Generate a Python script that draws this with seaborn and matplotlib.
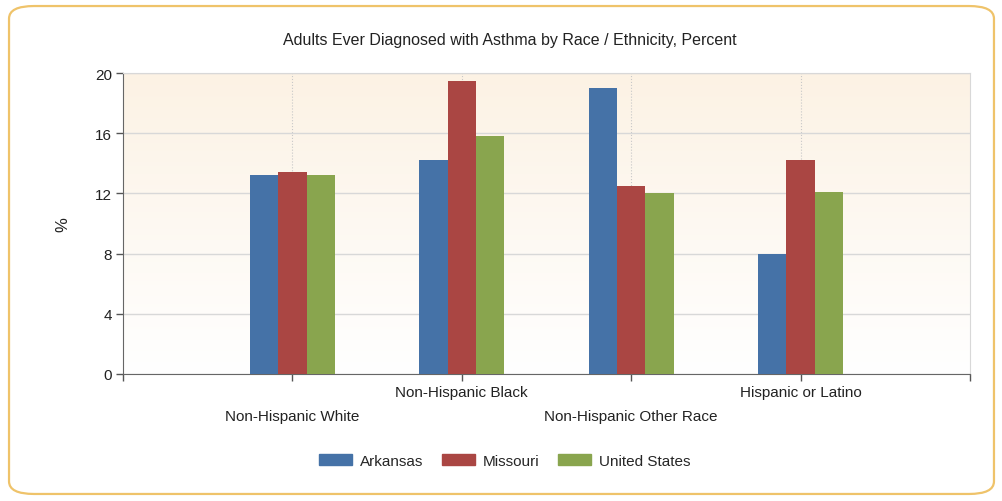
import numpy as np
import pandas as pd
import matplotlib
matplotlib.use('Agg')
import matplotlib.pyplot as plt
from matplotlib.patches import FancyBboxPatch
import seaborn as sns

# values
groups = ['Non-Hispanic White', 'Non-Hispanic Black', 'Non-Hispanic Other Race', 'Hispanic or Latino']
states = ['Arkansas', 'Missouri', 'United States']
arkansas = [13.2, 14.2, 19.0, 8.0]
missouri = [13.4, 19.5, 12.5, 14.2]
united_states = [13.2, 15.8, 12.0, 12.1]
colors = ['#4572A7', '#AA4643', '#89A54E']

df = pd.DataFrame({
    'group': groups * 3,
    'state': [s for s in states for _ in groups],
    'value': arkansas + missouri + united_states,
})

sns.set_style('white')
plt.rcParams['font.family'] = ['Liberation Sans Narrow', 'Liberation Sans', 'DejaVu Sans']

fig = plt.figure(figsize=(10.03, 5.02), dpi=100)
ax = fig.add_axes([123 / 1003, 1 - 375 / 502, (970 - 123) / 1003, (375 - 74) / 502])

# outer rounded border
border = FancyBboxPatch((0.009, 0.014), 0.982, 0.972, boxstyle='round,pad=0,rounding_size=0.025',
                        transform=fig.transFigure, facecolor='white', edgecolor='#EFC36A',
                        linewidth=1.6, zorder=-10)
fig.patches.append(border)

# beige (top) to white (bottom) gradient background
grad = np.linspace(0, 1, 256).reshape(-1, 1)
cmap = matplotlib.colors.LinearSegmentedColormap.from_list('bg', ['#FFFFFF', '#FCF2E4'])
ax.imshow(grad, aspect='auto', cmap=cmap, extent=[0, 1, 1, 0], transform=ax.transAxes, zorder=-5)

sns.barplot(data=df, x='group', y='value', hue='state', palette=colors, width=0.5,
            saturation=1, edgecolor='none', linewidth=0, ax=ax, legend=False, zorder=3)

ax.set_xlim(-1, len(groups))
ax.set_ylim(0, 20)
ax.set_yticks([0, 4, 8, 12, 16, 20])
ax.set_xticks(range(len(groups)))
ax.set_xticks([-1, len(groups)], minor=True)
ax.set_xticklabels(groups)
for i, tick in enumerate(ax.xaxis.get_major_ticks()):
    tick.set_pad(20 if i % 2 == 0 else 3)

ax.tick_params(axis='both', which='both', direction='out', length=5, width=1, color='#555555',
               labelsize=11, labelcolor='#222222')
ax.tick_params(axis='x', which='both', bottom=True)
ax.tick_params(axis='y', left=True, pad=3)

ax.grid(axis='y', color='#D8D8D8', linewidth=1, linestyle='-', zorder=0)
ax.grid(axis='x', which='major', color='#C8C8C8', linewidth=0.8, linestyle=':', zorder=0)
ax.set_axisbelow(True)

for side in ['top', 'right']:
    ax.spines[side].set_color('#D8D8D8')
for side in ['left', 'bottom']:
    ax.spines[side].set_color('#666666')

ax.set_xlabel('')
ax.set_ylabel('%', fontsize=12, color='#222222', labelpad=18)
fig.suptitle('Adults Ever Diagnosed with Asthma by Race / Ethnicity, Percent',
             x=0.508, y=1 - 40 / 502, va='center', fontsize=11.5, color='#222222')

handles = [plt.Rectangle((0, 0), 1, 1, color=c) for c in colors]
fig.legend(handles, states, loc='center', bbox_to_anchor=(0.503, 0.08), ncol=3, frameon=False,
           fontsize=11, handlelength=2.2, handleheight=0.8, columnspacing=1.2, handletextpad=0.5)

fig.savefig('out.png', dpi=100)
